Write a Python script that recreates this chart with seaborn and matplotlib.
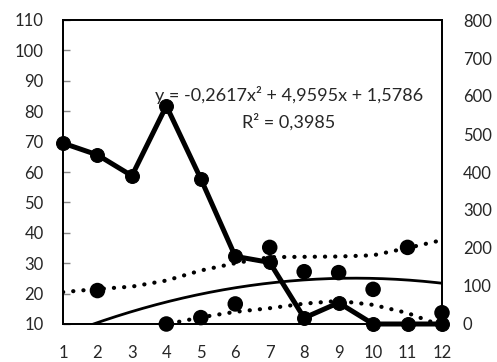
import numpy as np
import pandas as pd
import matplotlib
matplotlib.use("Agg")
import matplotlib.pyplot as plt
import seaborn as sns

sns.set_style("white")
plt.rcParams["font.family"] = ["Lato", "DejaVu Sans"]

# datos
meses = [1, 2, 3, 4, 5, 6, 7, 8, 9, 10, 11, 12]
serie_linea = [476, 445, 390, 574, 382, 178, 162, 16, 56, 0, 0, 0]          # eje derecho
serie_puntos = [np.nan, 21, np.nan, 10, 12.1, 16.6, 35.2, 27.2, 26.9, 21.4, 35.2, 13.7]  # eje izquierdo
coef = [-0.2617, 4.9595, 1.5786]   # y = a x^2 + b x + c
banda_sup = [20.5, 21.5, 22.3, 24.3, 27.6, 30.0, 32.0, 32.1, 32.2, 32.6, 35.0, 37.6]
banda_inf = [-8.0, -0.4, 5.5, 9.9, 12.2, 14.0, 15.2, 16.7, 17.6, 16.3, 13.6, 9.4]
texto_ec = "y = -0,2617x² + 4,9595x + 1,5786"
texto_r2 = "R² = 0,3985"

df = pd.DataFrame({"mes": meses, "linea": serie_linea, "puntos": serie_puntos,
                   "sup": banda_sup, "inf": banda_inf})
x_fino = np.linspace(1, 12, 200)
tendencia = np.polyval(coef, x_fino)

fig = plt.figure(figsize=(4.97, 3.62), dpi=100)
ax = fig.add_axes([63/497, 38/362, 379/497, 304/362])
ax2 = ax.twinx()

puntos = dict(linewidth=3.0, linestyle=(0, (0.05, 2.4)), dash_capstyle="round")
sns.lineplot(data=df, x="mes", y="sup", color="black", ax=ax, **puntos)
sns.lineplot(data=df, x="mes", y="inf", color="black", ax=ax, **puntos)
sns.lineplot(x=x_fino, y=tendencia, color="black", linewidth=2.0, ax=ax)
sns.scatterplot(data=df, x="mes", y="puntos", color="black", s=125, edgecolor="none",
                ax=ax, clip_on=False, zorder=5)

sns.lineplot(data=df, x="mes", y="linea", color="black", linewidth=3.6, marker="o",
             markersize=10, markeredgecolor="black", ax=ax2, clip_on=False, zorder=6)

ax.set_xlim(1, 12)
ax.set_ylim(10, 110)
ax.set_yticks(np.arange(10, 111, 10))
ax.set_xticks(meses)
ax2.set_ylim(0, 800)
ax2.set_yticks(np.arange(0, 801, 100))

for a in (ax, ax2):
    a.set_xlabel("")
    a.set_ylabel("")
    for s in a.spines.values():
        s.set_color("black")
        s.set_linewidth(1.3)

ax.tick_params(axis="y", direction="in", length=5, width=1, color="#888888",
               labelsize=12, pad=14, right=False)
ax.tick_params(axis="x", direction="in", length=5, width=1, color="#888888",
               labelsize=12, pad=15)
ax2.tick_params(axis="y", length=0, labelsize=12, pad=15)

ax.text(7.55, 85.3, texto_ec, fontsize=13, ha="center", va="center")
ax.text(7.55, 76.6, texto_r2, fontsize=13, ha="center", va="center")

fig.savefig("out.png", dpi=100)
